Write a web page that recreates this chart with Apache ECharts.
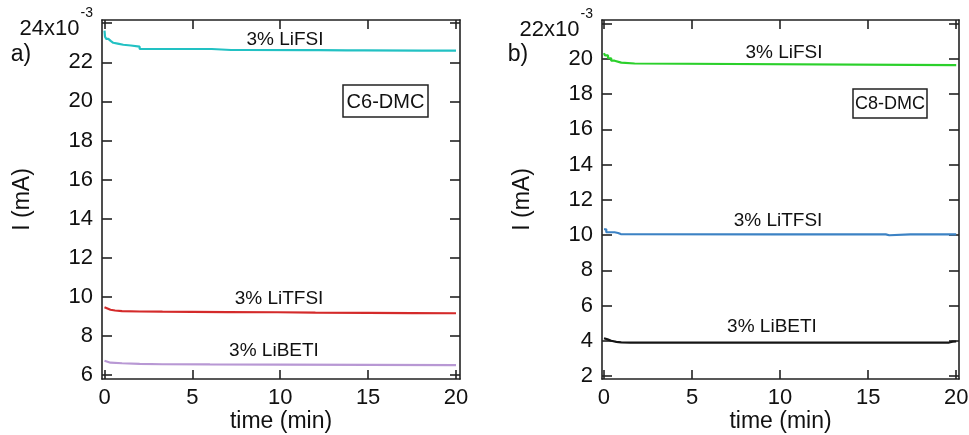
<!DOCTYPE html>
<html>
<head>
<meta charset="utf-8">
<script src="https://cdn.jsdelivr.net/npm/echarts@6/dist/echarts.min.js"></script>
<style>
  html, body { margin: 0; padding: 0; background: #fff; }
  #chart { width: 969px; height: 435px; }
</style>
</head>
<body>
<div id="chart"></div>
<script>
// Tick positions
const xTicks = [0, 5, 10, 15, 20];
const yTicksA = [6, 8, 10, 12, 14, 16, 18, 20, 22, 24];
const yTicksB = [2, 4, 6, 8, 10, 12, 14, 16, 18, 20, 22];

// Panel a) C6-DMC : current (x10^-3 mA) versus time (min)
const timeFsiA = [0, 0.03, 0.1, 0.22, 0.35, 0.5, 0.75, 1.07, 1.5, 2.0, 6.1, 7.2, 7.3, 7.9, 8.0, 11.5, 11.6, 12.2, 12.3, 13.8, 13.9, 14.8, 14.9, 18.05, 18.15, 20];
const currentFsiA = [23.62, 23.31, 23.2, 23.1, 23.0, 22.96, 22.9, 22.86, 22.8, 22.68, 22.63, 22.68, 22.63, 22.68, 22.62, 22.67, 22.62, 22.67, 22.61, 22.7, 22.61, 22.68, 22.6, 22.68, 22.6, 22.6];

const timeTfsiA = [0, 0.1, 0.34, 0.6, 1, 2, 3.3, 5, 7, 9.85, 12, 15, 17.5, 20];
const currentTfsiA = [9.47, 9.41, 9.34, 9.3, 9.27, 9.25, 9.24, 9.23, 9.22, 9.21, 9.19, 9.18, 9.17, 9.16];

const timeBetiA = [0, 0.1, 0.34, 1, 2, 3.3, 6, 10, 15, 20];
const currentBetiA = [6.73, 6.69, 6.63, 6.6, 6.57, 6.55, 6.54, 6.53, 6.52, 6.51];

// Panel b) C8-DMC
const timeFsiB = [0, 0.05, 0.23, 0.41, 0.6, 0.98, 1.74, 20];
const currentFsiB = [20.33, 20.2, 20.04, 19.9, 19.79, 19.74, 19.65, 19.65];

const timeTfsiB = [0, 0.13, 0.6, 0.8, 0.95, 1.05, 9.6, 9.7, 11.6, 11.7, 13.2, 13.3, 16.0, 16.2, 17.4, 17.5, 18.5, 18.6, 19.2, 19.3, 20];
const currentTfsiB = [10.33, 10.16, 10.12, 10.06, 10.1, 10.04, 9.99, 10.04, 9.99, 10.04, 9.99, 10.04, 9.99, 10.04, 9.99, 10.04, 9.99, 10.04, 9.99, 10.04, 10.03];

const timeBetiB = [0, 0.2, 0.41, 0.7, 0.98, 1.5, 5, 10, 15, 19.6, 19.8, 20];
const currentBetiB = [4.14, 4.08, 4.0, 3.94, 3.91, 3.9, 3.9, 3.9, 3.9, 3.9, 3.95, 3.96];

const pairs = (t, v) => t.map((x, i) => [x, v[i]]);

const FONT = '"Liberation Sans", Arial, sans-serif';
const INK = '#222';

function xAxisPair(grid, min, max) {
  const common = {
    type: 'value', gridIndex: grid, min: min, max: max,
    splitLine: { show: false },
    axisLine: { show: true, onZero: false, lineStyle: { color: INK, width: 1.6 } },
    axisTick: { show: true, inside: true, length: 9, customValues: xTicks, lineStyle: { color: INK, width: 1.6 } }
  };
  return [
    Object.assign({}, common, {
      position: 'bottom',
      axisLabel: { customValues: xTicks, fontSize: 22, color: '#111', margin: 8, fontFamily: FONT },
      name: 'time (min)', nameLocation: 'middle', nameGap: 31, nameMoveOverlap: false,
      nameTextStyle: { fontSize: 23, color: '#111', fontFamily: FONT }
    }),
    Object.assign({}, common, { position: 'top', axisLabel: { show: false } })
  ];
}

function yAxisPair(grid, min, max, ticks, topLabel) {
  const common = {
    type: 'value', gridIndex: grid, min: min, max: max,
    splitLine: { show: false },
    axisLine: { show: true, onZero: false, lineStyle: { color: INK, width: 1.6 } },
    axisTick: { show: true, inside: true, length: 10, customValues: ticks, lineStyle: { color: INK, width: 1.6 } }
  };
  return [
    Object.assign({}, common, {
      position: 'left',
      axisLabel: {
        customValues: ticks, fontSize: 22, color: '#111', margin: 9, fontFamily: FONT,
        formatter: v => (v === topLabel ? '{b|' + v + 'x10}{s|-3}' : String(v)),
        rich: {
          b: { fontSize: 22, color: '#111', fontFamily: FONT, lineHeight: 34, verticalAlign: 'bottom' },
          s: { fontSize: 14, color: '#111', fontFamily: FONT, verticalAlign: 'top', padding: [0, 0, 0, 1] }
        }
      },
      name: 'I (mA)', nameLocation: 'middle', nameGap: 68, nameRotate: 90, nameMoveOverlap: false,
      nameTextStyle: { fontSize: 23, color: '#111', fontFamily: FONT }
    }),
    Object.assign({}, common, { position: 'right', axisLabel: { show: false } })
  ];
}

function line(name, t, v, color, xi, yi, step) {
  return {
    name: name, type: 'line', xAxisIndex: xi, yAxisIndex: yi,
    data: pairs(t, v), showSymbol: false, step: step || false,
    lineStyle: { color: color, width: 2.2 }, itemStyle: { color: color },
    silent: true
  };
}

function label(text, x, y, size) {
  return {
    type: 'text', x: x, y: y, z: 100,
    style: { text: text, fontSize: size || 19, fontFamily: FONT, fill: '#111', align: 'center', verticalAlign: 'middle' }
  };
}

function boxed(text, x, y, w, h, size) {
  return {
    type: 'group', z: 100,
    children: [
      { type: 'rect', shape: { x: x, y: y, width: w, height: h }, style: { fill: '#fff', stroke: INK, lineWidth: 1.5 } },
      { type: 'text', x: x + w / 2, y: y + h / 2 + 1, style: { text: text, fontSize: size, fontFamily: FONT, fill: '#111', align: 'center', verticalAlign: 'middle' } }
    ]
  };
}

const chart = echarts.init(document.getElementById('chart'), null, { renderer: 'canvas' });

chart.setOption({
  animation: false,
  backgroundColor: '#fff',
  textStyle: { fontFamily: FONT },
  grid: [
    { left: 102, top: 20, width: 358, height: 359, containLabel: false, outerBoundsMode: 'none' },
    { left: 602, top: 20, width: 357, height: 359, containLabel: false, outerBoundsMode: 'none' }
  ],
  xAxis: [].concat(xAxisPair(0, -0.142, 20.228), xAxisPair(1, -0.113, 20.159)),
  yAxis: [].concat(yAxisPair(0, 5.795, 24.165, yTicksA, 24), yAxisPair(1, 1.83, 22.21, yTicksB, 22)),
  series: [
    line('3% LiFSI', timeFsiA, currentFsiA, '#22c1c3', 0, 0, 'end'),
    line('3% LiTFSI', timeTfsiA, currentTfsiA, '#d42a2a', 0, 0),
    line('3% LiBETI', timeBetiA, currentBetiA, '#b898d4', 0, 0),
    line('3% LiFSI', timeFsiB, currentFsiB, '#2bd02b', 2, 2, 'end'),
    line('3% LiTFSI', timeTfsiB, currentTfsiB, '#3c82c4', 2, 2, 'end'),
    line('3% LiBETI', timeBetiB, currentBetiB, '#151515', 2, 2)
  ],
  graphic: [
    label('a)', 21, 55, 23),
    label('b)', 518, 55, 23),
    label('3% LiFSI', 285, 40),
    label('3% LiTFSI', 279, 299),
    label('3% LiBETI', 274, 351),
    label('3% LiFSI', 784, 53),
    label('3% LiTFSI', 778, 221),
    label('3% LiBETI', 772, 327),
    boxed('C6-DMC', 343, 85, 85, 32, 20),
    boxed('C8-DMC', 853, 89, 74, 29, 18)
  ]
});
</script>
</body>
</html>
